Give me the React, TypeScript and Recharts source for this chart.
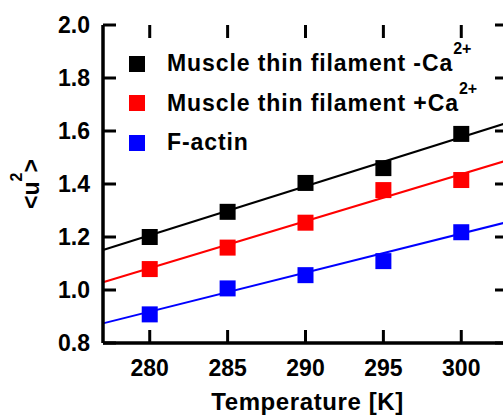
import React from 'react';
import { ComposedChart, Line, XAxis, YAxis } from 'recharts';

// ---- data ----
const temperatures = [280, 285, 290, 295, 300];
const minusCa = [1.2, 1.295, 1.404, 1.46, 1.589];
const plusCa = [1.079, 1.16, 1.254, 1.377, 1.415];
const fActin = [0.908, 1.006, 1.056, 1.109, 1.218];

// linear fit lines (values read at the two ends of the x range)
const fitTemps = [277, 303];
const minusCaFit = [1.151, 1.632];
const plusCaFit = [1.029, 1.49];
const fActinFit = [0.874, 1.257];

const seriesNames = ['Muscle thin filament -Ca', 'Muscle thin filament +Ca', 'F-actin'];
const seriesSups = ['2+', '2+', ''];
const seriesColors = ['#000000', '#ff0000', '#0000ff'];

const xTicks = [280, 285, 290, 295, 300];
const yTicks = [0.8, 1.0, 1.2, 1.4, 1.6, 1.8, 2.0];
const xDomain = [277, 303];
const yDomain = [0.8, 2.0];

const FONT = 'Liberation Sans, Arial, Helvetica, sans-serif';

// layout constants
const CHART_W = 520;
const CHART_H = 416;
const M_TOP = 25;
const M_RIGHT = 12;
const Y_AXIS_W = 103;
const X_AXIS_H = 73;
const PLOT_W = CHART_W - M_RIGHT - Y_AXIS_W;
const PLOT_H = CHART_H - M_TOP - X_AXIS_H;
const TICK_LEN = 13;
const X_MARGIN = 17;
const Y_MARGIN = 13;

// inward tick length expressed in axis units
const TICK_DX = (TICK_LEN * (xDomain[1] - xDomain[0])) / PLOT_W;
const TICK_DY = (TICK_LEN * (yDomain[1] - yDomain[0])) / PLOT_H;

const toPoints = (xs: number[], ys: number[]) => xs.map((t, i) => ({ t, v: ys[i] }));

const pointSets = [minusCa, plusCa, fActin].map((ys) => toPoints(temperatures, ys));
const fitSets = [minusCaFit, plusCaFit, fActinFit].map((ys) => toPoints(fitTemps, ys));

// inward tick marks on all four sides (drawn as short two-point segments)
const tickSegments = [
  ...xTicks.map((t) => [{ t, v: yDomain[0] }, { t, v: yDomain[0] + TICK_DY }]),
  ...xTicks.map((t) => [{ t, v: yDomain[1] }, { t, v: yDomain[1] - TICK_DY }]),
  ...yTicks.map((v) => [{ t: xDomain[0], v }, { t: xDomain[0] + TICK_DX, v }]),
  ...yTicks.map((v) => [{ t: xDomain[1] - TICK_DX, v }, { t: xDomain[1], v }]),
];

const makeSquare = (color: string) => (props: any) => {
  const { cx, cy, index } = props;
  if (cx == null || cy == null) return <g key={index} />;
  return <rect key={index} x={cx - 8} y={cy - 8} width={16} height={16} fill={color} />;
};

const BottomTick = (props: any) => {
  const { x, y, payload } = props;
  return (
    <text x={x} y={y} dy="0.71em" textAnchor="middle" fontSize={23} fontWeight="bold" fill="#000" fontFamily={FONT}>
      {payload.value}
    </text>
  );
};

const LeftTick = (props: any) => {
  const { x, y, payload } = props;
  return (
    <text x={x} y={y} dy="0.355em" textAnchor="end" fontSize={23} fontWeight="bold" fill="#000" fontFamily={FONT}>
      {Number(payload.value).toFixed(1)}
    </text>
  );
};

const YLabel = (props: any) => {
  const vb = props.viewBox || { x: 0, y: 0, width: 0, height: 0 };
  const cx = vb.x + 39;
  const cy = vb.y + vb.height / 2;
  return (
    <text
      x={cx}
      y={cy}
      transform={`rotate(-90, ${cx}, ${cy})`}
      textAnchor="middle"
      fontFamily={FONT}
      fontWeight="bold"
      fontSize={23}
      fill="#000"
    >
      <tspan>{'<u'}</tspan>
      <tspan fontSize={16} dy={-17}>2</tspan>
      <tspan dy={17}>{'>'}</tspan>
    </text>
  );
};

const XLabel = (props: any) => {
  const vb = props.viewBox || { x: 0, y: 0, width: 0, height: 0 };
  return (
    <text
      x={vb.x + vb.width / 2 + 2}
      y={vb.y + 67}
      textAnchor="middle"
      fontFamily={FONT}
      fontWeight="bold"
      fontSize={24}
      fill="#000"
      letterSpacing={0.6}
    >
      Temperature [K]
    </text>
  );
};

const LegendBox = () => (
  <div
    style={{
      position: 'absolute',
      left: 129,
      top: 44,
      fontFamily: FONT,
      fontWeight: 'bold',
      fontSize: 23,
      color: '#000',
      pointerEvents: 'none',
    }}
  >
    {seriesNames.map((name, i) => (
      <div key={name} style={{ display: 'flex', alignItems: 'center', height: 39.5, whiteSpace: 'nowrap' }}>
        <span style={{ display: 'inline-block', width: 16, height: 16, background: seriesColors[i], marginRight: 22 }} />
        <span style={{ letterSpacing: 0.9 }}>
          {name}
          {seriesSups[i] ? (
            <span style={{ fontSize: 16, position: 'relative', top: -17, letterSpacing: 0 }}>{seriesSups[i]}</span>
          ) : null}
        </span>
      </div>
    ))}
  </div>
);

export default function App() {
  return (
    <div style={{ position: 'fixed', left: 0, top: 0, width: 503, height: 416, overflow: 'hidden', background: '#fff' }}>
      <ComposedChart width={CHART_W} height={CHART_H} margin={{ top: M_TOP, right: M_RIGHT, left: 0, bottom: 0 }}>
        <XAxis
          xAxisId="b"
          dataKey="t"
          type="number"
          domain={xDomain}
          ticks={xTicks}
          height={X_AXIS_H}
          tickSize={0}
          tickMargin={X_MARGIN}
          stroke="#000"
          strokeWidth={3.5}
          tickLine={false}
          tick={BottomTick}
          label={{ content: XLabel }}
        />
        <XAxis
          xAxisId="top"
          orientation="top"
          type="number"
          domain={xDomain}
          height={0}
          stroke="#000"
          strokeWidth={3.5}
          tickLine={false}
          tick={false}
        />
        <YAxis
          yAxisId="l"
          type="number"
          domain={yDomain}
          ticks={yTicks}
          width={Y_AXIS_W}
          tickSize={0}
          tickMargin={Y_MARGIN}
          stroke="#000"
          strokeWidth={3.5}
          tickLine={false}
          tick={LeftTick}
          label={{ content: YLabel }}
        />
        {tickSegments.map((seg, i) => (
          <Line
            key={'tick' + i}
            xAxisId="b"
            yAxisId="l"
            data={seg}
            dataKey="v"
            type="linear"
            stroke="#000"
            strokeWidth={3}
            dot={false}
            activeDot={false}
            legendType="none"
            isAnimationActive={false}
          />
        ))}
        {fitSets.map((d, i) => (
          <Line
            key={'fit' + i}
            xAxisId="b"
            yAxisId="l"
            data={d}
            dataKey="v"
            type="linear"
            stroke={seriesColors[i]}
            strokeWidth={2}
            dot={false}
            activeDot={false}
            isAnimationActive={false}
          />
        ))}
        {pointSets.map((d, i) => (
          <Line
            key={'pts' + i}
            xAxisId="b"
            yAxisId="l"
            data={d}
            dataKey="v"
            name={seriesNames[i]}
            stroke="none"
            strokeWidth={0}
            dot={makeSquare(seriesColors[i])}
            activeDot={false}
            isAnimationActive={false}
          />
        ))}
      </ComposedChart>
      <LegendBox />
    </div>
  );
}
